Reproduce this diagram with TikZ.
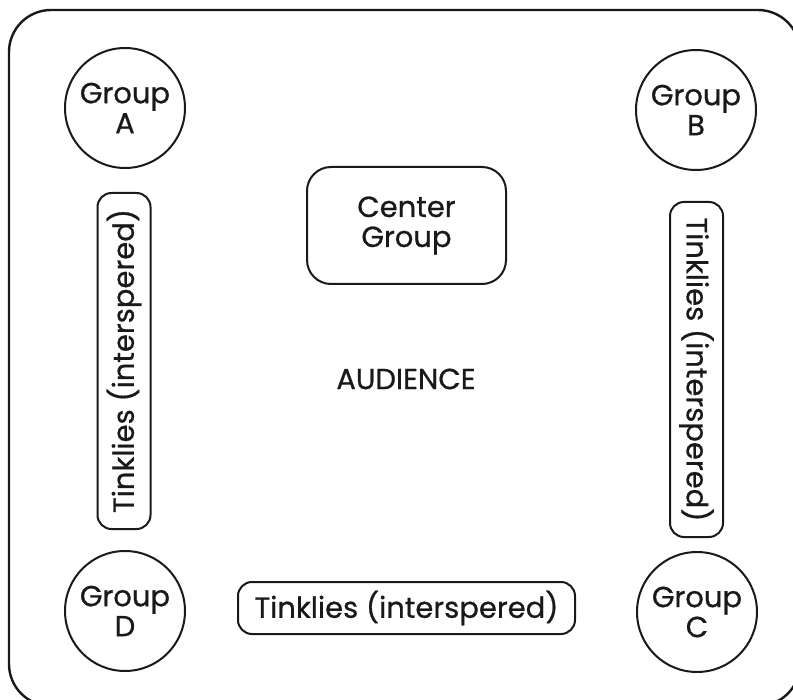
\documentclass[tikz,border=0pt]{standalone}
\usepackage{fontspec}
\setmainfont{Poppins}[FakeBold=0.7]
\begin{document}
\begin{tikzpicture}[x=1pt,y=-1pt,
  every node/.style={font=\fontsize{29}{30}\selectfont, text=black!90},
  grp/.style={draw=black!90, line width=2pt, circle, minimum size=120pt, inner sep=0pt, align=center},
  tinkbox/.style={draw=black!90, line width=2pt, rounded corners=14pt, inner sep=0pt, minimum height=53pt},
  cbox/.style={draw=black!90, line width=2pt, rounded corners=24pt, inner sep=0pt, minimum width=199pt, minimum height=117pt, align=center},
  outerbox/.style={draw=black!90, line width=2.4pt, rounded corners=42pt}
]
\clip (0,0) rectangle (793,700);
\fill[white] (0,0) rectangle (793,700);
\draw[outerbox] (9,10) rectangle (800,706);
\node[grp] (a) at (125,108) {Group\\A};
\node[grp] (b) at (696,110) {Group\\B};
\node[grp] (d) at (125,611) {Group\\D};
\node[grp] (c) at (697,612) {Group\\C};
\node[tinkbox, minimum width=336pt, rotate=90] (tl) at (124,361) {Tinklies (interspered)};
\node[tinkbox, minimum width=335pt, rotate=-90] (tr) at (696.5,369.5) {Tinklies (interspered)};
\node[tinkbox, minimum width=337pt, minimum height=52pt] (tb) at (406.5,608) {Tinklies (interspered)};
\node[cbox] (cg) at (406.5,225.5) {Center\\Group};
\node (aud) at (406,379) {AUDIENCE};
\end{tikzpicture}
\end{document}
